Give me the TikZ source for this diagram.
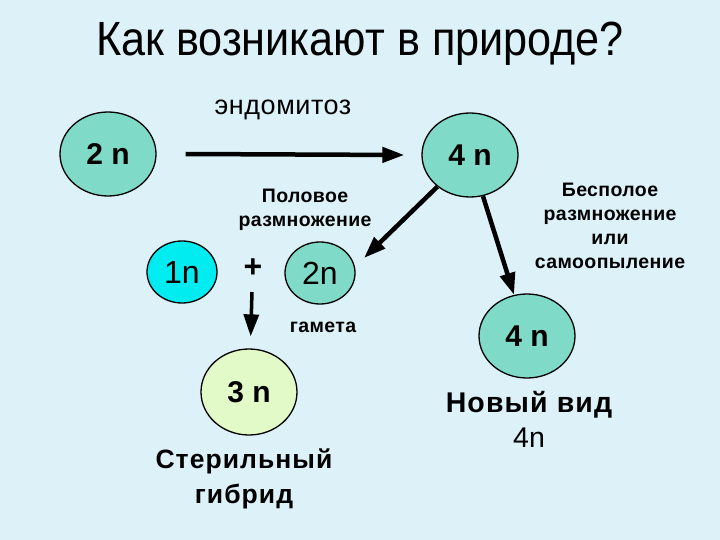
\documentclass[tikz,border=0pt]{standalone}
\usepackage{fontspec}
\setmainfont{Liberation Sans}
\usetikzlibrary{shapes.geometric,arrows.meta}

\definecolor{bgblue}{RGB}{220,242,248}
\definecolor{cellteal}{RGB}{128,218,200}
\definecolor{cellcyan}{RGB}{0,236,240}
\definecolor{cellgreen}{RGB}{226,250,200}

\newfontfamily\notefont[LetterSpace=2]{Liberation Sans}
\newfontfamily\widefont[LetterSpace=4]{Liberation Sans}
\newfontfamily\titlefont[FakeStretch=0.9]{Liberation Sans}

\tikzset{
  cell/.style={ellipse, draw=black, line width=1.3pt, fill=cellteal,
    inner sep=0pt, font=\fontsize{30}{32}\selectfont\bfseries},
  bigcell/.style={cell, minimum width=96pt, minimum height=84pt},
  smallcell/.style={cell, minimum width=70pt, minimum height=62pt,
    font=\fontsize{32}{34}\selectfont},
  note/.style={align=center, font=\notefont\fontsize{19.5}{24}\selectfont\bfseries},
  arr/.style={line width=4.5pt, -{Triangle[length=22pt,width=15pt]}}
}

\begin{document}
\begin{tikzpicture}[x=1pt, y=-1pt]

        \fill[bgblue] (0,0) rectangle (720,540);
        \useasboundingbox (0,0) rectangle (720,540);

        % title
        \node (title) at (360,44) {\titlefont\fontsize{48}{50}\selectfont Как возникают в природе?};

        % cells
        \node[bigcell] (c2) at (108,154) {2 n};
        \node[bigcell] (t4) at (470,155) {4 n};
        \node[smallcell, fill=cellcyan] (c1) at (182,272) {1n};
        \node[smallcell] (g2) at (320,273) {2n};
        \node[bigcell, fill=cellgreen, minimum height=86pt] (c3) at (249,392) {3 n};
        \node[bigcell] (b4) at (527,336) {4 n};
        \node[font=\fontsize{32}{34}\selectfont\bfseries] (plus) at (253,268) {+};

        % labels
        \node[font=\notefont\fontsize{27}{30}\selectfont] (endo) at (283,110) {эндомитоз};
        \node[note] (sex) at (305,210) {Половое\\размножение};
        \node[note] (asex) at (610,226) {Бесполое\\размножение\\или\\самоопыление};
        \node[note] (gam) at (323,327) {гамета};
        \node[align=center, font=\widefont\fontsize{26.5}{35}\selectfont\bfseries] (ster) at (244,479) {Стерильный\\гибрид};
        \node[align=center, font=\widefont\fontsize{28.5}{35}\selectfont\bfseries] (newsp) at (529,419) {Новый вид\\\rmfamily\mdseries 4n};

        % arrows
        \coordinate (d) at (364,258);
        \coordinate (v) at (252,292);
        \draw[arr] ([xshift=29pt]c2.east) -- ([xshift=-17pt]t4.west);
        \draw[arr] (t4) -- (d);
        \draw[arr] (t4) -- (b4);
        \draw[arr, line width=3.5pt, shorten >=12pt] (v) -- (c3);

\end{tikzpicture}
\end{document}
